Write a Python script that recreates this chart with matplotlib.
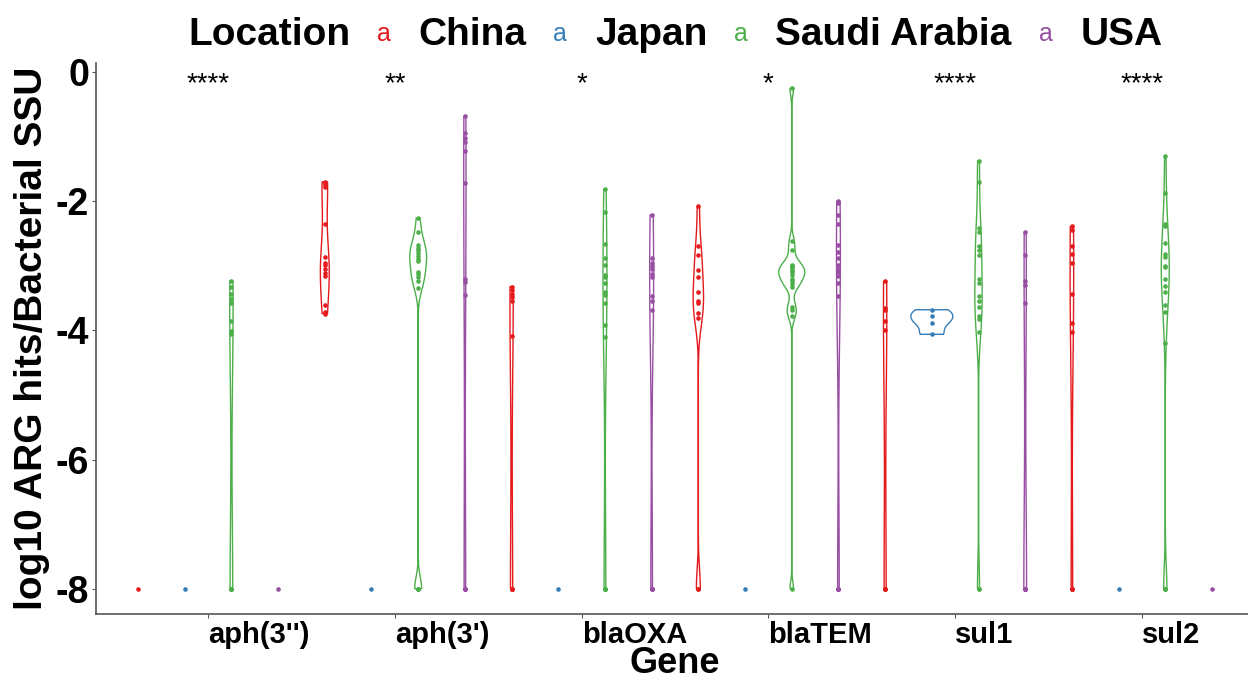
import numpy as np
import matplotlib.pyplot as plt

plt.rcParams['font.family'] = ['Liberation Sans', 'DejaVu Sans']

genes = ["aph(3'')", "aph(3')", "blaOXA", "blaTEM", "sul1", "sul2"]
locations = ["China", "Japan", "Saudi Arabia", "USA"]
colors = ["#E41A1C", "#377EB8", "#4DAF4A", "#984EA3"]
signif = ["****", "**", "*", "*", "****", "****"]

# log10 ARG hits / bacterial SSU (-8 = no hits)
china = {
    "aph(3'')": [-8],
    "aph(3')": [-1.70, -1.72, -1.75, -1.78, -2.36, -2.86, -2.95, -2.98, -3.05,
                -3.11, -3.16, -3.60, -3.72, -3.74],
    "blaOXA": [-3.32, -3.38, -3.43, -3.48, -3.55, -4.08, -8, -8, -8, -8],
    "blaTEM": [-2.08, -2.70, -2.83, -3.06, -3.18, -3.41, -3.55, -3.58, -3.73,
               -3.81, -8, -8],
    "sul1": [-3.24, -3.65, -3.68, -3.86, -4.00, -8, -8, -8],
    "sul2": [-2.39, -2.44, -2.69, -2.81, -2.95, -3.43, -3.89, -4.03, -8, -8, -8],
}
japan = {
    "aph(3'')": [-8],
    "aph(3')": [-8],
    "blaOXA": [-8],
    "blaTEM": [-8],
    "sul1": [-3.68, -3.78, -3.88, -4.06],
    "sul2": [-8],
}
saudi = {
    "aph(3'')": [-3.23, -3.32, -3.44, -3.52, -3.57, -3.86, -4.01, -4.05,
                 -8, -8, -8, -8, -8, -8],
    "aph(3')": [-2.26, -2.47, -2.67, -2.72, -2.76, -2.80, -2.85, -2.90, -2.93,
                -3.09, -3.13, -3.18, -3.24, -3.34, -8, -8, -8],
    "blaOXA": [-1.81, -2.16, -2.66, -2.88, -2.98, -3.14, -3.17, -3.26, -3.41,
               -3.45, -3.58, -3.92, -4.10, -8, -8, -8, -8, -8],
    "blaTEM": [-0.25, -2.62, -2.75, -2.98, -3.00, -3.02, -3.05, -3.08, -3.10,
               -3.14, -3.20, -3.24, -3.28, -3.32, -3.63, -3.68, -3.78, -8],
    "sul1": [-1.37, -1.70, -2.41, -2.47, -2.70, -2.75, -2.83, -3.20, -3.26,
             -3.47, -3.55, -3.63, -3.78, -3.83, -4.03, -8, -8],
    "sul2": [-1.30, -1.87, -2.35, -2.38, -2.64, -2.81, -2.87, -3.00, -3.02,
             -3.20, -3.31, -3.40, -3.61, -3.71, -4.19, -8, -8, -8],
}
usa = {
    "aph(3'')": [-8],
    "aph(3')": [-0.68, -0.95, -1.02, -1.08, -1.22, -1.72, -3.20, -3.25, -3.45,
                -8, -8, -8, -8, -8],
    "blaOXA": [-2.21, -2.88, -2.95, -3.00, -3.05, -3.12, -3.18, -3.47, -3.55,
               -3.68, -8, -8, -8, -8],
    "blaTEM": [-2.00, -2.02, -2.21, -2.36, -2.67, -2.78, -2.88, -2.98, -3.05,
               -3.10, -3.16, -3.26, -3.46, -8, -8, -8, -8, -8],
    "sul1": [-2.48, -2.84, -3.23, -3.29, -3.57, -8, -8, -8, -8, -8, -8],
    "sul2": [-8],
}
series = [china, japan, saudi, usa]


def bw_nrd0(x):
    x = np.asarray(x, float)
    sd = np.std(x, ddof=1)
    iqr = np.subtract(*np.percentile(x, [75, 25]))
    lo = min(sd, iqr / 1.34)
    if lo == 0:
        lo = sd
    return 0.9 * lo * len(x) ** -0.2


def density(x):
    x = np.asarray(x, float)
    bw = bw_nrd0(x)
    grid = np.linspace(x.min(), x.max(), 512)
    z = (grid[:, None] - x[None, :]) / bw
    d = np.exp(-0.5 * z ** 2).sum(axis=1) / (len(x) * bw * np.sqrt(2 * np.pi))
    return grid, d


dodge = 1.0
width = 0.9 / len(locations)

# densities first, then scale all violins by the same max (area scaling)
violins = []
for gi, g in enumerate(genes):
    for li, data in enumerate(series):
        vals = data[g]
        xpos = gi - dodge / 2 + dodge / len(locations) * (li + 0.5)
        dens = density(vals) if len(vals) > 1 else None
        violins.append((xpos, li, vals, dens))
dmax = max(v[3][1].max() for v in violins if v[3] is not None)

fig = plt.figure(figsize=(12.48, 6.79), dpi=100)
ax = fig.add_axes([96 / 1248, 1 - 614 / 679, (1254 - 96) / 1248, (614 - 63) / 679])

for xpos, li, vals, dens in violins:
    c = colors[li]
    if dens is not None:
        grid, d = dens
        hw = d / dmax * width / 2
        xs = np.concatenate([xpos - hw, (xpos + hw)[::-1]])
        ys = np.concatenate([grid, grid[::-1]])
        ax.fill(xs, ys, facecolor='none', edgecolor=c, lw=1.0, zorder=2)
    ax.plot(np.full(len(vals), xpos), vals, 'o', ms=3.3, color=c, mec='none', zorder=3)

for gi, s in enumerate(signif):
    ax.text(gi, -0.30, s, ha='center', va='baseline', fontsize=20)

ax.set_xlim(-0.6, 5.6)
ax.set_ylim(-8.39, 0.14)
ax.set_yticks([0, -2, -4, -6, -8])
ax.set_yticklabels(['0', '-2', '-4', '-6', '-8'], fontsize=27, fontweight='bold')
ax.set_xticks(range(len(genes)))
ax.set_xticklabels(genes, fontsize=21, fontweight='bold', ha='left')
ax.tick_params(axis='both', length=3, width=0.8, color='#555555', pad=2)
ax.set_ylabel('log10 ARG hits/Bacterial SSU', fontsize=28, fontweight='bold', labelpad=4)
fig.text(675 / 1248, 1 - 673 / 679, 'Gene', fontsize=26, fontweight='bold',
         ha='center', va='baseline')
for side in ['top', 'right']:
    ax.spines[side].set_visible(False)
for side in ['left', 'bottom']:
    ax.spines[side].set_color('#555555')
    ax.spines[side].set_linewidth(1.2)

# legend across the top
base = 1 - 45 / 679
fig.text(188 / 1248, base, 'Location', fontsize=28, fontweight='bold', va='baseline')
key_x = [383.5, 559.5, 740.5, 1045.5]
lab_x = [418, 595, 775, 1081]
for c, kx, lx, name in zip(colors, key_x, lab_x, locations):
    fig.text(kx / 1248, base + 4 / 679, 'a', color=c, fontsize=18, ha='center', va='baseline')
    fig.text(lx / 1248, base, name, fontsize=28, fontweight='bold', va='baseline')

fig.savefig('out.png', dpi=100)
